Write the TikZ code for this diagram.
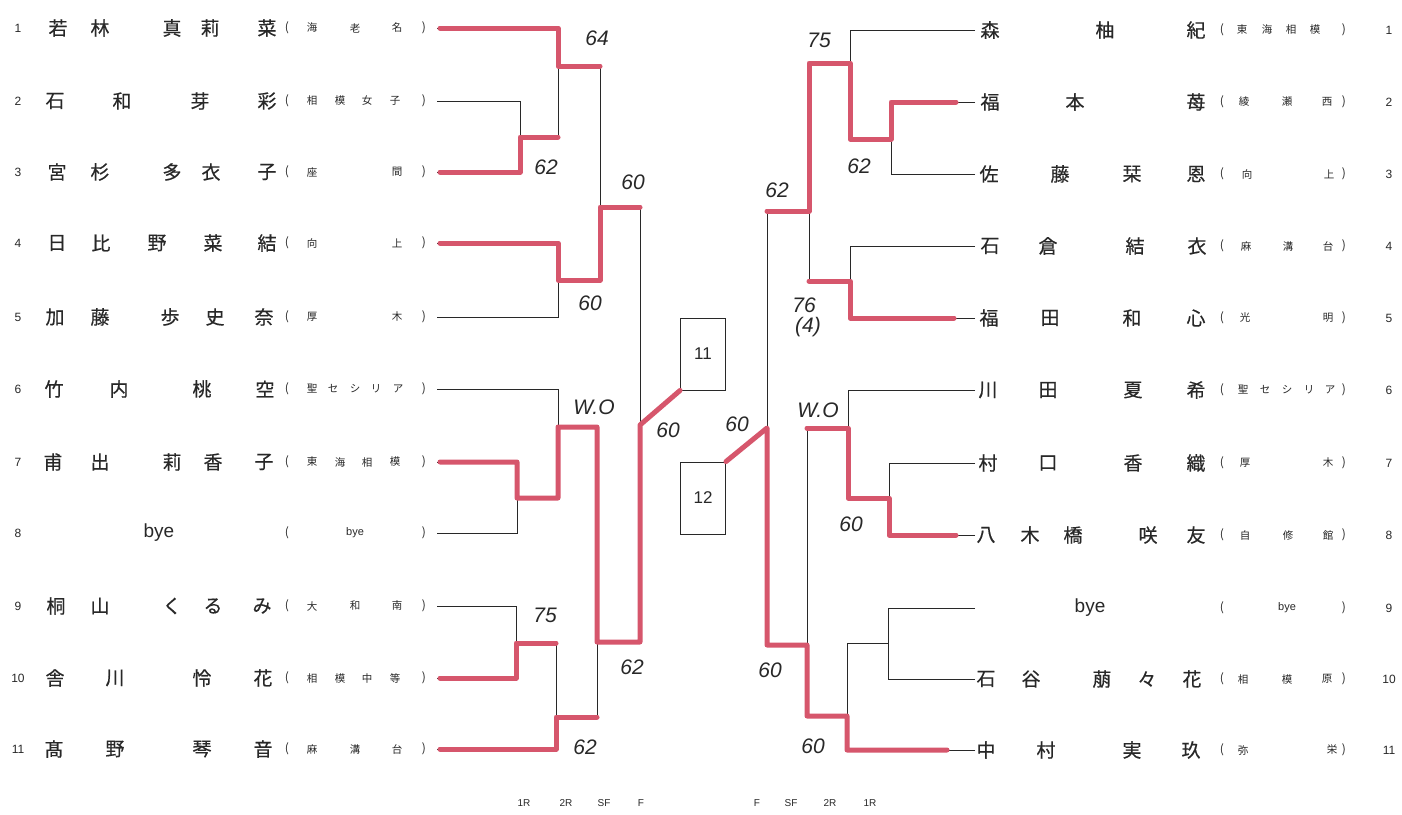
\documentclass[tikz,border=0pt]{standalone}
\usepackage{fontspec}
\setmainfont{Liberation Sans}
\newfontfamily\jp[FakeBold=0.4]{Noto Sans CJK JP}
\newfontfamily\jpl{Noto Sans CJK JP}
\definecolor{ink}{RGB}{40,40,40}
\definecolor{hlred}{RGB}{214,86,108}
\newcommand\putrow[3]{\foreach \xx/\cc in {#2}{\node[#3] (t-#1-\xx) at (\xx,#1) {\cc};}}
\begin{document}
\begin{tikzpicture}[x=1pt,y=-1pt,
  nm/.style={font=\jp\fontsize{19}{19}\selectfont, text=ink, inner sep=0pt},
  sc/.style={font=\jpl\fontsize{10.5}{10.5}\selectfont, text=ink, inner sep=0pt},
  par/.style={font=\jpl\fontsize{12}{12}\selectfont, text=ink, inner sep=0pt},
  num/.style={font=\fontsize{12}{12}\selectfont, text=ink, inner sep=0pt},
  byebig/.style={font=\fontsize{19}{19}\selectfont, text=ink, inner sep=0pt},
  byesm/.style={font=\fontsize{11}{11}\selectfont, text=ink, inner sep=0pt},
  score/.style={font=\itshape\fontsize{21}{21}\selectfont, text=ink, inner sep=0pt},
  rnd/.style={font=\fontsize{10}{10}\selectfont, text=ink, inner sep=0pt},
  bk/.style={line width=0.9pt, draw=ink},
  hl/.style={line width=5pt, draw=hlred, line join=round, line cap=round},
  boxn/.style={draw=ink, line width=0.9pt, minimum width=45pt, minimum height=72pt, inner sep=0pt, font=\fontsize{17}{17}\selectfont, text=ink}]
\useasboundingbox (0,0) rectangle (1402,814);
\fill[white] (0,0) rectangle (1402,814);

% ---------- left texts ----------
\foreach \i/\y in {1/28,2/101,3/172,4/243,5/317,6/389,7/462,8/533,9/606,10/678,11/749}{
  \node[num] (nL\i) at (18,\y) {\i};
  \node[par] (pl\i) at (287,\y) {(};
  \node[par] (pr\i) at (424,\y) {)};
  \coordinate (L\i) at (437,\y);
}
\putrow{28}{58/若,100/林,172/真,210/莉,267/菜}{nm}
\putrow{28}{312/海,355/老,397/名}{sc}
\putrow{101}{55/石,122/和,200/芽,267/彩}{nm}
\putrow{101}{312/相,340/模,367/女,395/子}{sc}
\putrow{172}{57/宮,100/杉,172/多,211/衣,267/子}{nm}
\putrow{172}{312/座,397/間}{sc}
\putrow{243}{57/日,101/比,157/野,213/菜,267/結}{nm}
\putrow{243}{312/向,397/上}{sc}
\putrow{317}{55/加,100/藤,170/歩,215/史,264/奈}{nm}
\putrow{317}{312/厚,397/木}{sc}
\putrow{389}{54/竹,119/内,202/桃,265/空}{nm}
\putrow{389}{312/聖,333/セ,355/シ,376/リ,398/ア}{sc}
\putrow{462}{53/甫,100/出,172/莉,213/香,264/子}{nm}
\putrow{462}{312/東,340/海,367/相,395/模}{sc}
\node[byebig] (byeL) at (159,533) {bye};
\node[byesm] (byeLs) at (355,533) {bye};
\putrow{606}{56/桐,100/山,172/く,213/る,262/み}{nm}
\putrow{606}{312/大,355/和,397/南}{sc}
\putrow{678}{55/舎,115/川,202/怜,263/花}{nm}
\putrow{678}{312/相,340/模,367/中,395/等}{sc}
\putrow{749}{54/髙,115/野,202/琴,263/音}{nm}
\putrow{749}{312/麻,355/溝,397/台}{sc}

% ---------- right texts ----------
\foreach \i/\y in {1/30,2/102,3/174,4/246,5/318,6/390,7/463,8/535,9/608,10/679,11/750}{
  \node[num] (nR\i) at (1389,\y) {\i};
  \node[par] (ql\i) at (1222,\y) {(};
  \node[par] (qr\i) at (1344,\y) {)};
  \coordinate (R\i) at (975,\y);
}
\putrow{30}{990/森,1105/柚,1196/紀}{nm}
\putrow{30}{1242/東,1267/海,1291/相,1315/模}{sc}
\putrow{102}{990/福,1075/本,1196/苺}{nm}
\putrow{102}{1244/綾,1287/瀬,1327/西}{sc}
\putrow{174}{989/佐,1060/藤,1132/栞,1196/恩}{nm}
\putrow{174}{1247/向,1329/上}{sc}
\putrow{246}{990/石,1048/倉,1135/結,1197/衣}{nm}
\putrow{246}{1246/麻,1288/溝,1328/台}{sc}
\putrow{318}{989/福,1050/田,1132/和,1196/心}{nm}
\putrow{318}{1245/光,1328/明}{sc}
\putrow{390}{988/川,1048/田,1133/夏,1196/希}{nm}
\putrow{390}{1243/聖,1265/セ,1287/シ,1309/リ,1330/ア}{sc}
\putrow{463}{988/村,1048/口,1133/香,1196/織}{nm}
\putrow{463}{1245/厚,1328/木}{sc}
\putrow{535}{986/八,1030/木,1073/橋,1148/咲,1196/友}{nm}
\putrow{535}{1245/自,1288/修,1328/館}{sc}
\node[byebig] (byeR) at (1090,608) {bye};
\node[byesm] (byeRs) at (1287,608) {bye};
\putrow{679}{986/石,1031/谷,1102/萠,1147/々,1192/花}{nm}
\putrow{679}{1243/相,1287/模,1327/原}{sc}
\putrow{750}{986/中,1046/村,1132/実,1191/玖}{nm}
\putrow{750}{1243/弥,1332/栄}{sc}

% ---------- boxes ----------
\node[boxn] (B11) at (703,354) {11};
\node[boxn] (B12) at (703,498) {12};

% ---------- left bracket junctions ----------
\coordinate (Lm23) at (520,137);
\coordinate (Lm1) at (558,66);
\coordinate (Lm45) at (558,280);
\coordinate (Lsf1) at (600,207);
\coordinate (Lm78) at (517,498);
\coordinate (Lm6) at (558,427);
\coordinate (Lm910) at (516,643);
\coordinate (Lm11) at (556,717);
\coordinate (Lsf2) at (597,642);
\coordinate (Lfin) at (640,425);
% ---------- right bracket junctions ----------
\coordinate (Rm23) at (891,139);
\coordinate (Rm1) at (850,63);
\coordinate (Rm45) at (850,281);
\coordinate (Rsf1) at (809,211);
\coordinate (Rm78) at (889,498);
\coordinate (Rm6) at (848,428);
\coordinate (Rm910) at (888,643);
\coordinate (Rm11) at (847,716);
\coordinate (Rsf2) at (807,645);
\coordinate (Rfin) at (767,428);

% ---------- black lines ----------
\draw[bk] (L1) -| (Lm1);
\draw[bk] (L2) -| (Lm23);
\draw[bk] (L3) -| (Lm23);
\draw[bk] (Lm23) -| (Lm1);
\draw[bk] (Lm1) -| (Lsf1);
\draw[bk] (L4) -| (Lm45);
\draw[bk] (L5) -| (Lm45);
\draw[bk] (Lm45) -| (Lsf1);
\draw[bk] (Lsf1) -| (Lfin);
\draw[bk] (L6) -| (Lm6);
\draw[bk] (L7) -| (Lm78);
\draw[bk] (L8) -| (Lm78);
\draw[bk] (Lm78) -| (Lm6);
\draw[bk] (Lm6) -| (Lsf2);
\draw[bk] (L9) -| (Lm910);
\draw[bk] (L10) -| (Lm910);
\draw[bk] (Lm910) -| (Lm11);
\draw[bk] (L11) -| (Lm11);
\draw[bk] (Lm11) -| (Lsf2);
\draw[bk] (Lsf2) -| (Lfin);

\draw[bk] (R1) -| (Rm1);
\draw[bk] (R2) -| (Rm23);
\draw[bk] (R3) -| (Rm23);
\draw[bk] (Rm23) -| (Rm1);
\draw[bk] (Rm1) -| (Rsf1);
\draw[bk] (R4) -| (Rm45);
\draw[bk] (R5) -| (Rm45);
\draw[bk] (Rm45) -| (Rsf1);
\draw[bk] (Rsf1) -| (Rfin);
\draw[bk] (R6) -| (Rm6);
\draw[bk] (R7) -| (Rm78);
\draw[bk] (R8) -| (Rm78);
\draw[bk] (Rm78) -| (Rm6);
\draw[bk] (Rm6) -| (Rsf2);
\draw[bk] (R9) -| (Rm910);
\draw[bk] (R10) -| (Rm910);
\draw[bk] (Rm910) -| (Rm11);
\draw[bk] (R11) -| (Rm11);
\draw[bk] (Rm11) -| (Rsf2);
\draw[bk] (Rsf2) -| (Rfin);

% ---------- red highlights ----------
\draw[hl] ([xshift=3pt]L1) -| (Lm1) -- (Lm1 -| Lsf1);
\draw[hl] ([xshift=3pt]L3) -| (Lm23) -- (Lm23 -| Lm1);
\draw[hl] ([xshift=3pt]L4) -| (Lm45) -| (Lsf1) -- (Lsf1 -| Lfin);
\draw[hl] ([xshift=3pt]L7) -| (Lm78) -| (Lm6) -| (Lsf2) -| (Lfin) -- (B11.south west);
\draw[hl] ([xshift=3pt]L10) -| (Lm910) -- (Lm910 -| Lm11);
\draw[hl] ([xshift=3pt]L11) -| (Lm11) -- (Lm11 -| Lsf2);

\draw[hl] ([xshift=-19pt]R2) -| (Rm23) -| (Rm1) -| (Rsf1) -- (Rsf1 -| Rfin);
\draw[hl] ([xshift=-21pt]R5) -| (Rm45) -- (Rm45 -| Rsf1);
\draw[hl] ([xshift=-19pt]R8) -| (Rm78) -| (Rm6) -- (Rm6 -| Rsf2);
\draw[hl] ([xshift=-28pt]R11) -| (Rm11) -| (Rsf2) -| (Rfin) -- (B12.north east);

% ---------- scores ----------
\node[score] (s1) at (597,38) {64};
\node[score] (s2) at (546,167) {62};
\node[score] (s3) at (633,182) {60};
\node[score] (s4) at (590,303) {60};
\node[score] (s5) at (594,407) {W.O};
\node[score] (s6) at (668,430) {60};
\node[score] (s7) at (545,615) {75};
\node[score] (s8) at (632,667) {62};
\node[score] (s9) at (585,747) {62};

\node[score] (u1) at (819,40) {75};
\node[score] (u2) at (859,166) {62};
\node[score] (u3) at (777,190) {62};
\node[score] (u4) at (804,305) {76};
\node[score] (u5) at (808,327) {(4)};
\node[score] (u6) at (818,410) {W.O};
\node[score] (u7) at (737,424) {60};
\node[score] (u8) at (851,524) {60};
\node[score] (u9) at (770,670) {60};
\node[score] (u10) at (813,746) {60};

% ---------- round labels ----------
\node[rnd] (r1) at (524,803) {1R};
\node[rnd] (r2) at (566,803) {2R};
\node[rnd] (r3) at (604,803) {SF};
\node[rnd] (r4) at (641,803) {F};
\node[rnd] (r5) at (757,803) {F};
\node[rnd] (r6) at (791,803) {SF};
\node[rnd] (r7) at (830,803) {2R};
\node[rnd] (r8) at (870,803) {1R};
\end{tikzpicture}
\end{document}
